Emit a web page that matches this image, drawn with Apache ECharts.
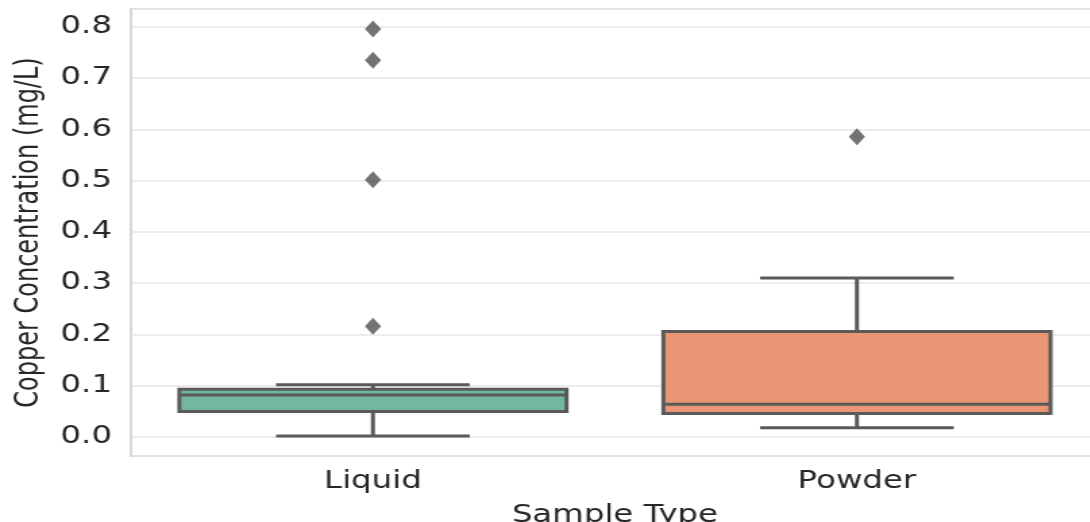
<!DOCTYPE html>
<html>
<head>
<meta charset="utf-8">
<script src="https://cdn.jsdelivr.net/npm/echarts@6/dist/echarts.min.js"></script>
<style>
  html, body { margin: 0; padding: 0; background: #ffffff; overflow: hidden; width: 1090px; height: 522px; }
  #chart { width: 840px; height: 522px; transform: scaleX(1.35); transform-origin: 0 0; }
</style>
</head>
<body>
<div id="chart"></div>
<script>
// ---- data ----
const categories = ['Liquid', 'Powder'];
const lowerWhisker = [0.002, 0.018];
const q1 = [0.050, 0.046];
const median = [0.082, 0.064];
const q3 = [0.093, 0.206];
const upperWhisker = [0.102, 0.310];
const liquidOutliers = [0.796, 0.735, 0.502, 0.216];
const powderOutliers = [0.586];
const boxColors = ['#71b7a1', '#e99675'];

const boxData = categories.map((c, i) => [i, lowerWhisker[i], q1[i], median[i], q3[i], upperWhisker[i]]);
const outlierData = liquidOutliers.map(v => [0, v]).concat(powderOutliers.map(v => [1, v]));

const lineColor = '#5a5a5a';
const textColor = '#262626';
const fontFamily = '"DejaVu Sans", sans-serif';

const chart = echarts.init(document.getElementById('chart'));
chart.setOption({
  animation: false,
  backgroundColor: '#ffffff',
  grid: {
    left: 97, right: 26, top: 9, bottom: 66,
    outerBoundsMode: 'none',
    containLabel: false,
    show: true, borderColor: '#d6d6d6', borderWidth: 2, backgroundColor: 'transparent'
  },
  xAxis: {
    type: 'category',
    data: categories,
    boundaryGap: true,
    name: 'Sample Type',
    nameLocation: 'middle',
    nameGap: 48,
    nameTextStyle: { fontSize: 24, color: textColor, fontFamily },
    axisLine: { show: false },
    axisTick: { show: false },
    axisLabel: { fontSize: 24, color: textColor, fontFamily, margin: 14 },
    splitLine: { show: false }
  },
  yAxis: {
    type: 'value',
    min: -0.037,
    max: 0.835,
    minInterval: 0.1,
    maxInterval: 0.1,
    name: 'Copper Concentration (mg/L)',
    nameLocation: 'middle',
    nameGap: 62,
    nameTextStyle: { fontSize: 24, color: textColor, fontFamily },
    axisLine: { show: false },
    axisTick: { show: false },
    axisLabel: {
      fontSize: 24, color: textColor, fontFamily, margin: 14,
      showMinLabel: false, showMaxLabel: false,
      formatter: v => (Math.abs(Math.round(v * 10) - v * 10) < 1e-6 ? v.toFixed(1) : '')
    },
    splitLine: { show: true, lineStyle: { color: '#e6e6e6', width: 1.5 } }
  },
  series: [
    {
      type: 'custom',
      data: boxData,
      z: 3,
      renderItem: function (params, api) {
        const idx = api.value(0);
        const band = api.size([1, 0])[0];
        const half = band * 0.4;
        const capHalf = band * 0.2;
        const pMin = api.coord([idx, api.value(1)]);
        const pQ1 = api.coord([idx, api.value(2)]);
        const pMed = api.coord([idx, api.value(3)]);
        const pQ3 = api.coord([idx, api.value(4)]);
        const pMax = api.coord([idx, api.value(5)]);
        const x = pQ1[0];
        const ls = { stroke: lineColor, lineWidth: 3 };
        return {
          type: 'group',
          children: [
            { type: 'line', shape: { x1: x, y1: pQ1[1], x2: x, y2: pMin[1] }, style: ls },
            { type: 'line', shape: { x1: x, y1: pQ3[1], x2: x, y2: pMax[1] }, style: ls },
            { type: 'line', shape: { x1: x - capHalf, y1: pMin[1], x2: x + capHalf, y2: pMin[1] }, style: ls },
            { type: 'line', shape: { x1: x - capHalf, y1: pMax[1], x2: x + capHalf, y2: pMax[1] }, style: ls },
            { type: 'rect', shape: { x: x - half, y: pQ3[1], width: half * 2, height: pQ1[1] - pQ3[1] },
              style: { fill: boxColors[idx], stroke: lineColor, lineWidth: 3 } },
            { type: 'line', shape: { x1: x - half, y1: pMed[1], x2: x + half, y2: pMed[1] }, style: ls }
          ]
        };
      }
    },
    {
      type: 'scatter',
      data: outlierData,
      symbol: 'diamond',
      symbolSize: [12, 17],
      itemStyle: { color: '#505050' },
      z: 4
    }
  ]
});
</script>
</body>
</html>
